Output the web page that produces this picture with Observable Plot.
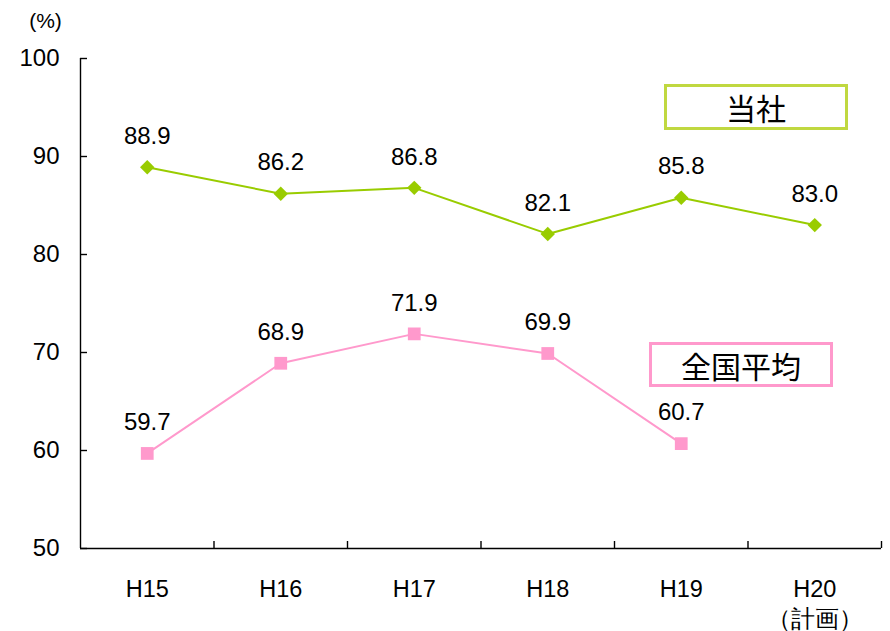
<!DOCTYPE html>
<html><head><meta charset="utf-8">
<script src="https://cdn.jsdelivr.net/npm/d3@7"></script>
<script src="https://cdn.jsdelivr.net/npm/@observablehq/plot@0.6"></script>
<style>
body{margin:0;background:#fff;}
#wrap{position:relative;width:890px;height:631px;overflow:hidden;}
.leg{position:absolute;box-sizing:border-box;background:#fff;font-family:"Noto Sans CJK JP",sans-serif;font-size:30px;display:flex;align-items:center;justify-content:center;color:#000;line-height:1;}
</style></head><body><div id="wrap"></div>
<script>
const categories = ["H15","H16","H17","H18","H19","H20\n（計画）"];
const companyValues = [88.9, 86.2, 86.8, 82.1, 85.8, 83.0];
const nationalValues = [59.7, 68.9, 71.9, 69.9, 60.7, null];
const seriesNames = ["当社", "全国平均"];
const yTicks = [50, 60, 70, 80, 90, 100];
const unitLabel = "(%)";

const green = "#99cc00", pink = "#ff99cc";
const idx = categories.map((_, i) => i);
const edges = categories.map((_, i) => i + 0.5);
const company = companyValues.map((v, i) => ({i, v}));
const national = nationalValues.map((v, i) => ({i, v})).filter(d => d.v != null);

const chart = Plot.plot({
  width: 890, height: 631,
  marginLeft: 80, marginRight: 9, marginTop: 58, marginBottom: 83,
  style: {fontFamily: '"Liberation Sans", Arial, sans-serif', fontSize: "24px", color: "#000", background: "#fff", overflow: "visible"},
  x: {type: "linear", domain: [-0.5, categories.length - 0.5]},
  y: {domain: [50, 100]},
  marks: [
    Plot.axisY({ticks: yTicks, tickSize: 0, tickPadding: 21, label: null, fontSize: 24}),
    Plot.axisY({ticks: yTicks, tickSize: -7, text: null, label: null, strokeWidth: 1.4}),
    Plot.axisX({ticks: idx, tickFormat: i => categories[i], tickSize: 0, tickPadding: 27, label: null, fontSize: 23.5, lineHeight: 1.28}),
    Plot.axisX({ticks: edges, tickSize: -7, text: null, label: null, strokeWidth: 1.4}),
    Plot.ruleX([-0.5], {strokeWidth: 1.4}),
    Plot.ruleY([50], {strokeWidth: 1.4}),
    Plot.line(company, {x: "i", y: "v", stroke: green, strokeWidth: 2}),
    Plot.dot(company, {x: "i", y: "v", symbol: "diamond2", r: 6.5, fill: green, stroke: "none"}),
    Plot.text(company, {x: "i", y: "v", text: d => d.v.toFixed(1), dy: -31, fontSize: 24}),
    Plot.line(national, {x: "i", y: "v", stroke: pink, strokeWidth: 2}),
    Plot.dot(national, {x: "i", y: "v", symbol: "square", r: 7.2, fill: pink, stroke: "none"}),
    Plot.text(national, {x: "i", y: "v", text: d => d.v.toFixed(1), dy: -31, fontSize: 24}),
    Plot.text([unitLabel], {frameAnchor: "top-left", textAnchor: "middle", lineAnchor: "middle", dx: -35, dy: -37, fontSize: 21})
  ]
});
const wrap = document.getElementById("wrap");
wrap.appendChild(chart);

const legends = [
  {name: seriesNames[0], color: "#c0d840", left: 664, top: 84, w: 184, h: 46},
  {name: seriesNames[1], color: pink, left: 649, top: 342, w: 184, h: 45}
];
for (const l of legends) {
  const d = document.createElement("div");
  d.className = "leg";
  d.textContent = l.name;
  Object.assign(d.style, {left: l.left + "px", top: l.top + "px", width: l.w + "px", height: l.h + "px", border: `3px solid ${l.color}`});
  wrap.appendChild(d);
}
</script></body></html>
